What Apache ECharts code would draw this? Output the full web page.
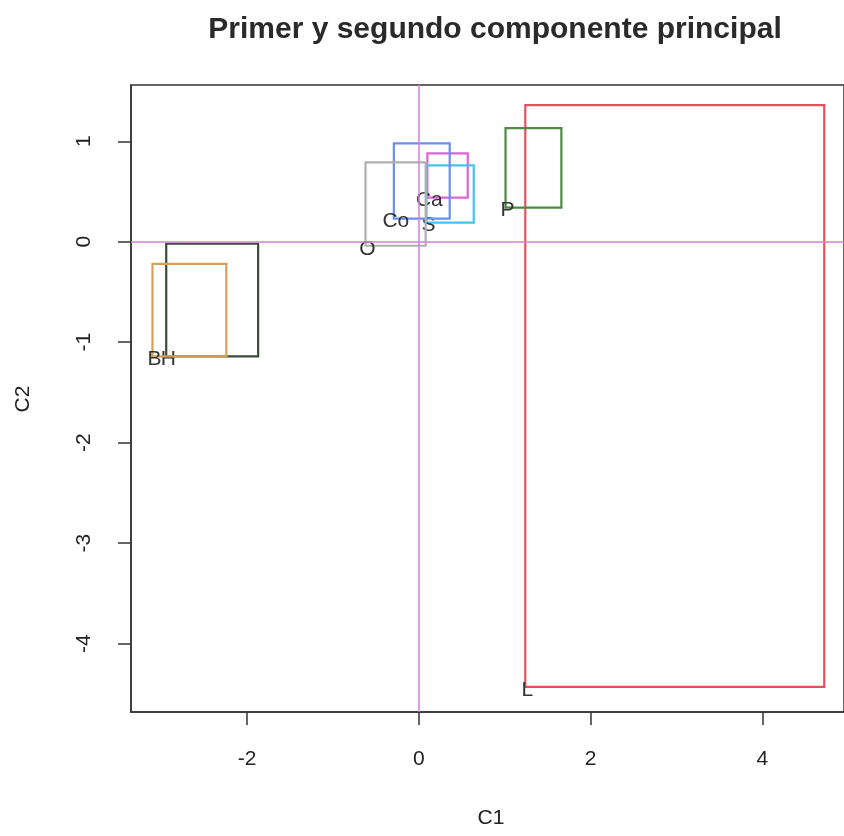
<!DOCTYPE html>
<html><head><meta charset="utf-8">
<script src="https://cdn.jsdelivr.net/npm/echarts@6/dist/echarts.min.js"></script>
<style>html,body{margin:0;padding:0;background:#fff}#c{width:844px;height:836px}</style>
</head><body><div id="c"></div>
<script>
var labels = ['L','P','Ca','S','Co','O','H','B'];
var xMin = [1.24, 1.01, 0.10, 0.09, -0.29, -0.62, -2.94, -3.10];
var xMax = [4.72, 1.66, 0.57, 0.64, 0.36, 0.08, -1.87, -2.24];
var yMin = [-4.43, 0.34, 0.44, 0.19, 0.23, -0.04, -1.14, -1.14];
var yMax = [1.36, 1.13, 0.88, 0.76, 0.98, 0.79, -0.02, -0.22];
var boxColors = ['#e8505c','#4e8a42','#e063d2','#45c3ef','#6a8ff0','#b0b0b0','#3c4a3c','#d4a256'];
var xTicks = [-2, 0, 2, 4];
var yTicks = [1, 0, -1, -2, -3, -4];

var data = labels.map(function(l,i){ return [xMin[i], xMax[i], yMin[i], yMax[i], i]; });
var chart = echarts.init(document.getElementById('c'), null, {renderer:'canvas'});
chart.setOption({
  backgroundColor:'#fff',
  animation:false,
  title:{text:'Primer y segundo componente principal',left:490,top:10,textAlign:'center',
    textStyle:{fontFamily:'Liberation Sans',fontSize:30,fontWeight:'bold',color:'#2a2a2a'}},
  grid:{left:131,top:85,width:719,height:627,show:true,borderColor:'#333',borderWidth:1.5,backgroundColor:'transparent'},
  xAxis:{type:'value',min:-3.35,max:4.95,
    axisLine:{show:true,onZero:false,lineStyle:{color:'#333',width:1.5}},
    axisTick:{show:true,length:13,customValues:xTicks,lineStyle:{color:'#333',width:1.5}},
    axisLabel:{customValues:xTicks,margin:37,fontFamily:'Liberation Sans',fontSize:21,color:'#222'},
    splitLine:{show:false}},
  yAxis:{type:'value',min:-4.68,max:1.56,
    axisLine:{show:true,onZero:false,lineStyle:{color:'#333',width:1.5}},
    axisTick:{show:true,length:13,customValues:yTicks,lineStyle:{color:'#333',width:1.5}},
    axisLabel:{customValues:yTicks,rotate:90,margin:36,fontFamily:'Liberation Sans',fontSize:21,color:'#222'},
    splitLine:{show:false}},
  graphic:[
    {type:'text',x:491,y:818,style:{text:'C1',fontFamily:'Liberation Sans',fontSize:21,fill:'#222',align:'center',verticalAlign:'middle'}},
    {type:'text',x:23,y:399,rotation:Math.PI/2,style:{text:'C2',fontFamily:'Liberation Sans',fontSize:21,fill:'#222',align:'center',verticalAlign:'middle'}}
  ],
  series:[{
    type:'custom',
    data:data,
    renderItem:function(params, api){
      var p1 = api.coord([api.value(0), api.value(3)]);
      var p2 = api.coord([api.value(1), api.value(2)]);
      var idx = api.value(4);
      return {type:'group',children:[
        {type:'rect',shape:{x:p1[0],y:p1[1],width:p2[0]-p1[0],height:p2[1]-p1[1]},
          style:{fill:'none',stroke:boxColors[idx],lineWidth:2.2}},
        {type:'text',x:p1[0]+2,y:p2[1]+3,style:{text:labels[idx],fontFamily:'Liberation Sans',fontSize:21,fill:'#333',align:'center',verticalAlign:'middle'}}
      ]};
    },
    markLine:{silent:true,symbol:'none',label:{show:false},
      lineStyle:{color:'#d67fd6',width:1.5,type:'solid'},
      data:[{xAxis:0},{yAxis:0}]}
  }]
});
</script></body></html>
